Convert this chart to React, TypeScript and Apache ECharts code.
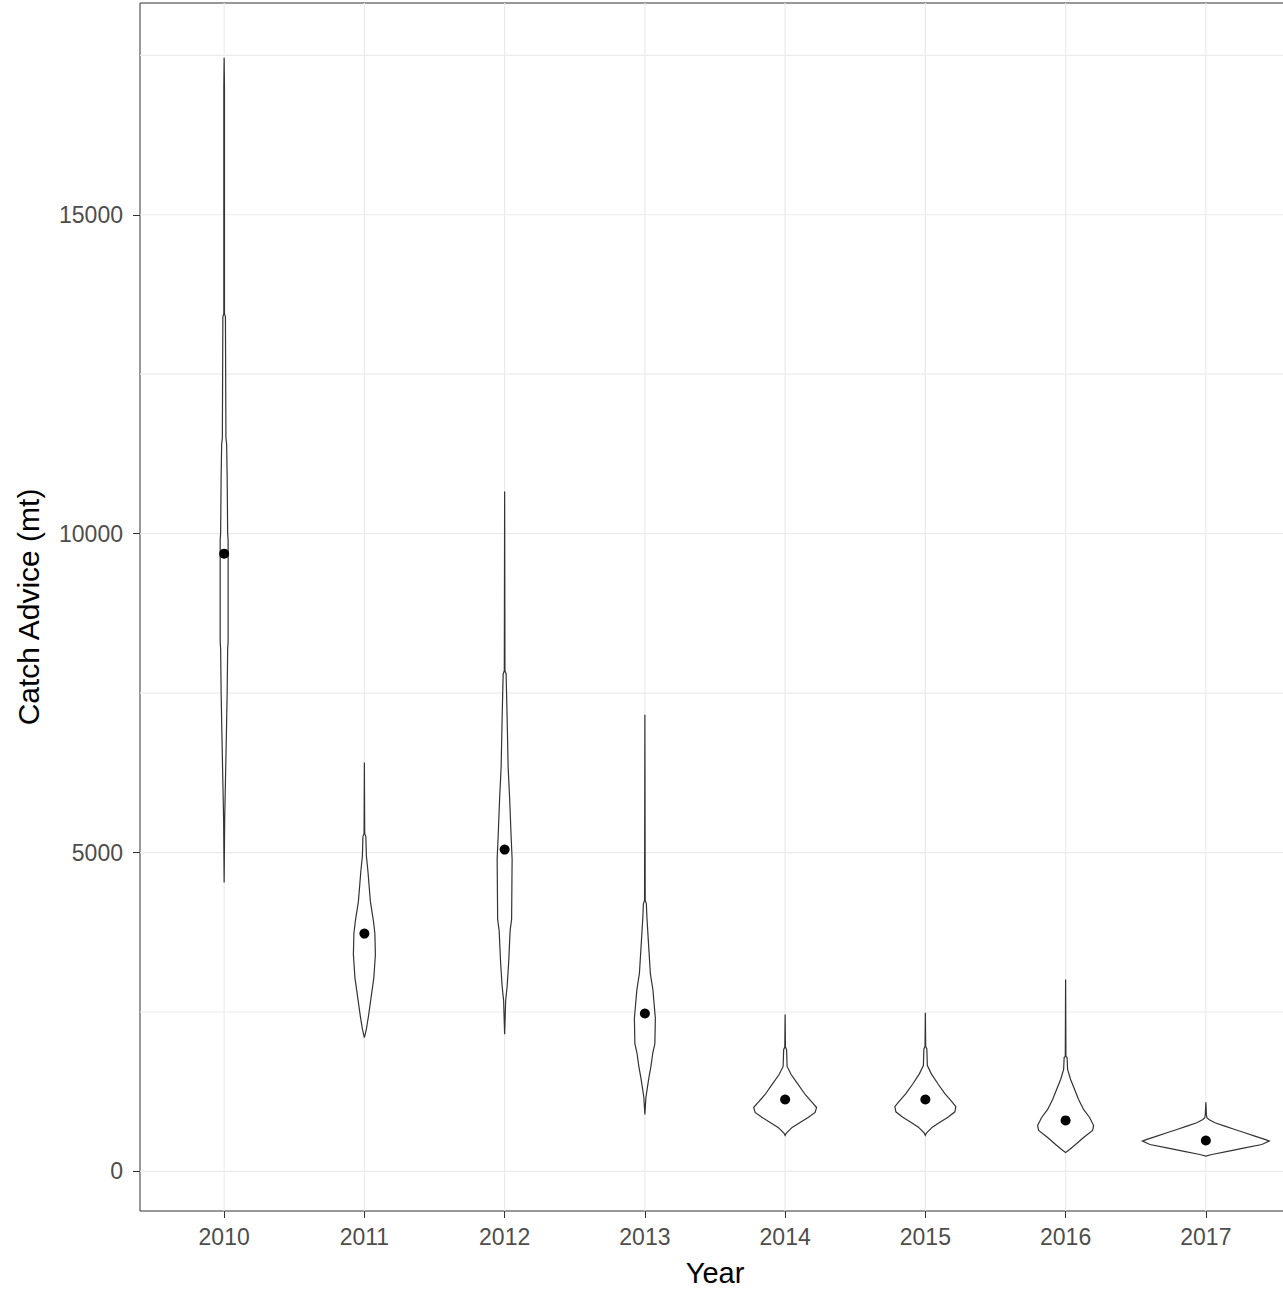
import React, { useEffect, useRef } from "react";
import * as echarts from "echarts";

// Categories and tick labels
const years = ["2010", "2011", "2012", "2013", "2014", "2015", "2016", "2017"];
const yMajorBreaks = [0, 5000, 10000, 15000];
const yMinorBreaks = [2500, 7500, 12500, 17500];

// Median catch advice per year (points)
const medians = [9686, 3730, 5047, 2476, 1128, 1128, 800, 486];

// Violin profiles: catch values (mt) and relative density (1 = widest violin)
const values2010 = [17460, 17000, 13450, 13400, 11500, 11400, 10900, 10000, 9900, 8300, 8200, 7500, 6900, 6100, 5500, 4530];
const density2010 = [0, 0.005, 0.005, 0.02, 0.028, 0.039, 0.047, 0.055, 0.062, 0.062, 0.055, 0.047, 0.036, 0.02, 0.008, 0];

const values2011 = [6410, 5300, 5250, 4950, 4710, 4230, 3930, 3730, 3400, 3040, 2650, 2430, 2230, 2100];
const density2011 = [0, 0.005, 0.023, 0.031, 0.055, 0.094, 0.141, 0.164, 0.172, 0.148, 0.094, 0.063, 0.031, 0];

const values2012 = [10660, 7850, 7800, 7115, 6330, 5860, 5235, 4900, 3950, 3780, 3275, 2900, 2680, 2150];
const density2012 = [0, 0.005, 0.023, 0.039, 0.055, 0.078, 0.102, 0.117, 0.109, 0.086, 0.063, 0.039, 0.016, 0];

const values2013 = [7160, 4250, 4200, 4000, 3600, 3100, 2850, 2400, 2000, 1865, 1645, 1470, 1315, 1160, 895];
const density2013 = [0, 0.005, 0.023, 0.031, 0.055, 0.086, 0.125, 0.164, 0.156, 0.125, 0.094, 0.063, 0.039, 0.016, 0];

const values2014 = [2460, 1950, 1910, 1646, 1520, 1364, 1207, 1082, 1003, 925, 846, 768, 690, 596, 564];
const density2014 = [0, 0.005, 0.023, 0.031, 0.094, 0.203, 0.313, 0.422, 0.492, 0.469, 0.359, 0.234, 0.109, 0.016, 0];

const values2015 = [2490, 1960, 1920, 1660, 1530, 1375, 1220, 1095, 1015, 935, 855, 775, 695, 600, 565];
const density2015 = [0, 0.005, 0.023, 0.031, 0.094, 0.195, 0.305, 0.414, 0.477, 0.461, 0.359, 0.234, 0.109, 0.016, 0];

const values2016 = [3009, 1803, 1787, 1599, 1442, 1285, 1129, 972, 846, 721, 643, 533, 423, 345, 298];
const density2016 = [0, 0.005, 0.023, 0.031, 0.078, 0.141, 0.203, 0.281, 0.375, 0.438, 0.422, 0.281, 0.156, 0.063, 0];

const values2017 = [1086, 900, 842, 815, 763, 710, 658, 606, 553, 502, 475, 423, 371, 318, 266, 240];
const density2017 = [0, 0.008, 0.016, 0.047, 0.141, 0.297, 0.453, 0.609, 0.766, 0.922, 0.992, 0.875, 0.609, 0.359, 0.094, 0];

const profileValues = [values2010, values2011, values2012, values2013, values2014, values2015, values2016, values2017];
const profileDensity = [density2010, density2011, density2012, density2013, density2014, density2015, density2016, density2017];

const HALF_WIDTH = 0.456; // half violin width (category units) at density 1
const GRID_COLOR = "#EBEBEB";
const INK = "#333333";

export default function App() {
  const ref = useRef<HTMLDivElement>(null);

  useEffect(() => {
    if (!ref.current) return;
    const chart = echarts.init(ref.current, undefined, { renderer: "svg" });
    const idx = years.map((_, i) => i);

    const option: any = {
      animation: false,
      backgroundColor: "#ffffff",
      grid: {
        left: 140,
        right: 10,
        top: 3,
        bottom: 78,
        containLabel: false,
        outerBoundsMode: "none",
        show: true,
        borderColor: INK,
        borderWidth: 1,
        backgroundColor: "transparent",
      },
      xAxis: {
        type: "value",
        min: -0.6,
        max: 7.6,
        name: "Year",
        nameLocation: "middle",
        nameGap: 47,
        nameTextStyle: { fontFamily: "Liberation Sans", fontSize: 29, color: "#000" },
        axisLine: { show: false, onZero: false },
        axisTick: { show: true, length: 7, customValues: idx, lineStyle: { color: INK, width: 1 } },
        axisLabel: {
          customValues: idx,
          formatter: (v: number) => years[Math.round(v)] ?? "",
          fontFamily: "Liberation Sans",
          fontSize: 23,
          color: "#4D4D4D",
          margin: 14,
        },
        splitLine: { show: false },
      },
      yAxis: {
        type: "value",
        min: -620,
        max: 18320,
        name: "Catch Advice (mt)",
        nameLocation: "middle",
        nameGap: 97,
        nameTextStyle: { fontFamily: "Liberation Sans", fontSize: 30, color: "#000" },
        axisLine: { show: false, onZero: false },
        axisTick: { show: true, length: 7, customValues: yMajorBreaks, lineStyle: { color: INK, width: 1 } },
        axisLabel: {
          customValues: yMajorBreaks,
          formatter: (v: number) => String(Math.round(v)),
          fontFamily: "Liberation Sans",
          fontSize: 23,
          color: "#4D4D4D",
          margin: 17,
        },
        splitLine: { show: false },
      },
      series: [
        {
          type: "custom",
          name: "hgrid",
          silent: true,
          z: 0,
          data: [...yMinorBreaks, ...yMajorBreaks].map((v) => [0, v]),
          encode: { x: 0, y: 1 },
          renderItem: (params: any, api: any) => {
            const cs = params.coordSys;
            const p = api.coord([0, api.value(1)]);
            return {
              type: "line",
              shape: { x1: cs.x, y1: p[1], x2: cs.x + cs.width, y2: p[1] },
              style: { stroke: GRID_COLOR, lineWidth: 1.2 },
            };
          },
        },
        {
          type: "custom",
          name: "vgrid",
          silent: true,
          z: 0,
          data: idx.map((i) => [i, 0]),
          encode: { x: 0, y: 1 },
          renderItem: (params: any, api: any) => {
            const cs = params.coordSys;
            const p = api.coord([api.value(0), 0]);
            return {
              type: "line",
              shape: { x1: p[0], y1: cs.y, x2: p[0], y2: cs.y + cs.height },
              style: { stroke: GRID_COLOR, lineWidth: 1.2 },
            };
          },
        },
        {
          type: "custom",
          name: "violins",
          z: 2,
          data: idx.map((i) => [i, medians[i]]),
          encode: { x: 0, y: 1 },
          renderItem: (params: any, api: any) => {
            const i = api.value(0);
            const vals = profileValues[i];
            const dens = profileDensity[i];
            const right: number[][] = [];
            const left: number[][] = [];
            for (let k = 0; k < vals.length; k++) {
              const w = dens[k] * HALF_WIDTH;
              right.push(api.coord([i + w, vals[k]]));
              left.push(api.coord([i - w, vals[k]]));
            }
            const points = right.concat(left.reverse());
            return {
              type: "polygon",
              shape: { points },
              style: { fill: "#ffffff", stroke: INK, lineWidth: 1.2 },
            };
          },
        },
        {
          type: "scatter",
          name: "median",
          z: 3,
          symbol: "circle",
          symbolSize: 10,
          itemStyle: { color: "#000000", opacity: 1 },
          data: idx.map((i) => [i, medians[i]]),
        },
      ],
    };

    chart.setOption(option);
    return () => chart.dispose();
  }, []);

  return (
    <div
      style={{
        position: "fixed",
        left: 0,
        top: 0,
        width: 1283,
        height: 1289,
        overflow: "hidden",
        background: "#fff",
      }}
    >
      <div ref={ref} style={{ width: 1300, height: 1289 }} />
    </div>
  );
}
